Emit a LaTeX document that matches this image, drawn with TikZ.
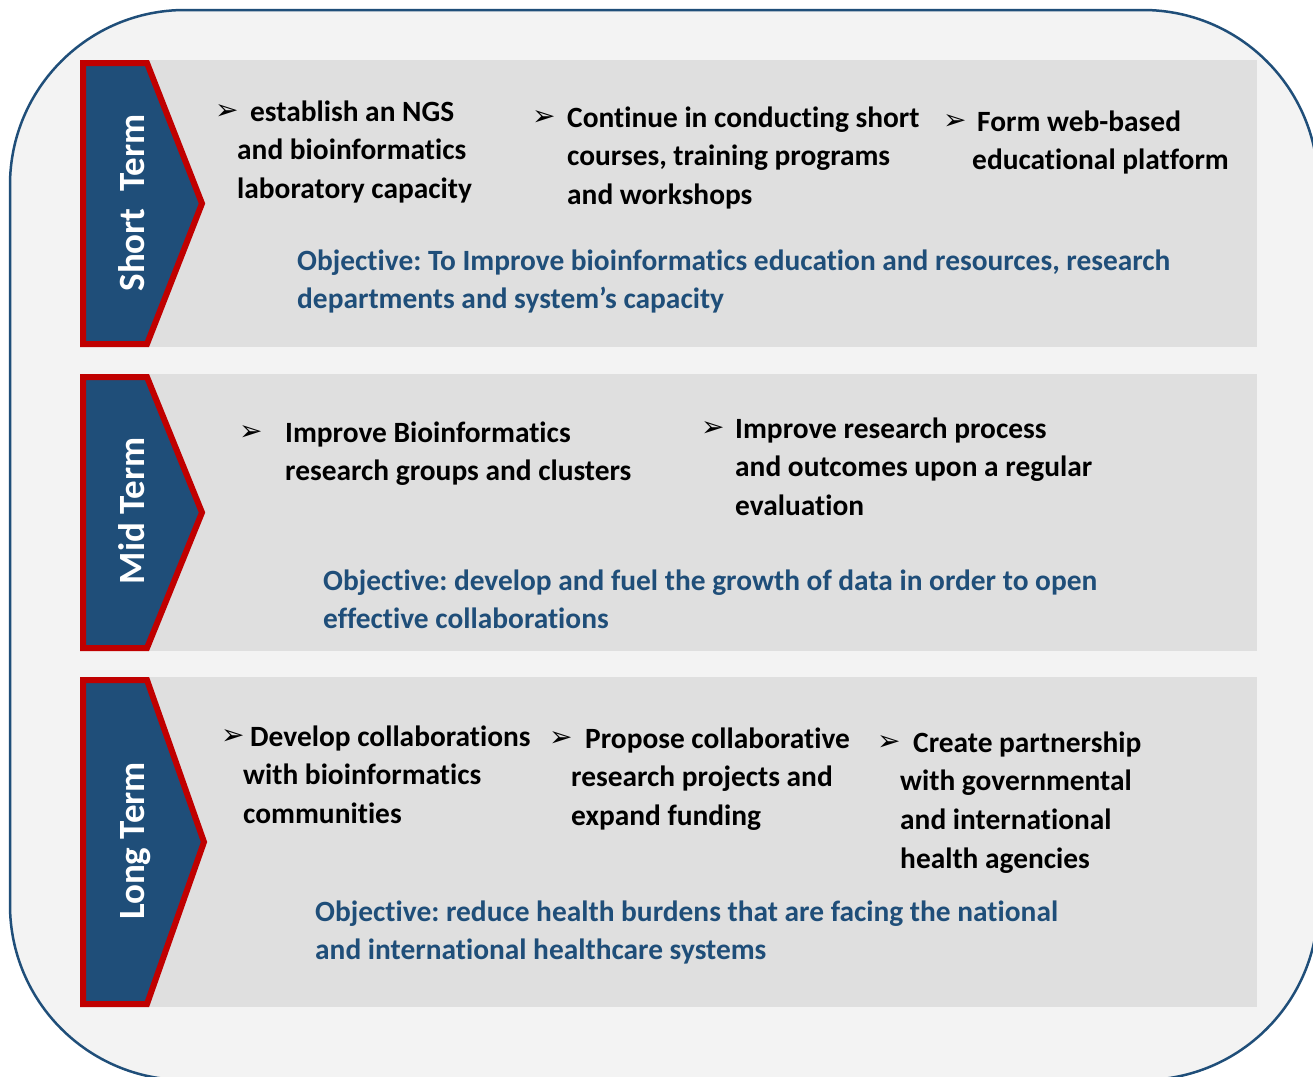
\documentclass[tikz,border=0pt]{standalone}
\usepackage{fontspec}
\setmainfont{Carlito}[Ligatures=NoCommon]
\newfontfamily\symfont{DejaVu Sans}
\definecolor{termblue}{HTML}{1F4E79}
\definecolor{termred}{HTML}{C00000}
\definecolor{panelgray}{HTML}{DFDFDF}
\definecolor{backgray}{HTML}{F3F3F3}
\frenchspacing

\begin{document}
\begin{tikzpicture}[x=1pt,y=-1pt,
  panel/.style={fill=panelgray},
  termarrow/.style={fill=termblue,draw=termred,line width=6pt},
  termlabel/.style={anchor=base,rotate=90,text=white,inner sep=0pt,font=\fontsize{37}{40}\selectfont\bfseries},
  bullet/.style={anchor=base west,inner sep=0pt,font=\symfont\fontsize{28}{28}\selectfont},
  item/.style={anchor=base west,align=left,inner sep=0pt,font=\fontsize{29.4}{38.7}\selectfont\bfseries},
  goal/.style={item,text=termblue}]
\useasboundingbox (0,0) rectangle (1313,1076);
\fill[white] (0,0) rectangle (1313,1076);
\clip (0,0) rectangle (1313,1076);
\draw[fill=backgray,draw=termblue,line width=2.5pt,rounded corners=175pt] (10,10) rectangle (1318,1080);

\fill[panel] (140,60) rectangle (1257,347);
\fill[panel] (140,374) rectangle (1257,651);
\fill[panel] (140,677) rectangle (1257,1007);

\draw[termarrow] (83,63) -- (147,63) -- (202,203.5) -- (147,344) -- (83,344) -- cycle;
\draw[termarrow] (83,377) -- (147,377) -- (202,512.5) -- (147,648) -- (83,648) -- cycle;
\draw[termarrow] (83,680) -- (147,680) -- (204,842) -- (147,1004) -- (83,1004) -- cycle;
\node[termlabel] (short) at (144,203) {Short~ Term};
\node[termlabel] (mid) at (144,511) {Mid Term};
\node[termlabel] (long) at (144,841) {Long Term};

\node[bullet] (st1b) at (215,119) {➢};
\node[item] (st1) at (237,198.4) {\hspace*{13pt}establish an NGS\\and bioinformatics\\laboratory capacity};
\node[bullet] (st2b) at (532,125) {➢};
\node[item] (st2) at (567,204.4) {Continue in conducting short\\courses, training programs\\and workshops};
\node[bullet] (st3b) at (943,129) {➢};
\node[item] (st3) at (972,169.7) {\hspace*{5pt}Form web-based\\educational platform};
\node[goal] (stgoal) at (297,308.7) {Objective: To Improve bioinformatics education and resources, research\\departments and system’s capacity};

\node[bullet] (mt1b) at (239,440) {➢};
\node[item] (mt1) at (285,480.7) {Improve Bioinformatics\\research groups and clusters};
\node[bullet] (mt2b) at (701,436) {➢};
\node[item] (mt2) at (735,515.4) {Improve research process\\and outcomes upon a regular\\evaluation};
\node[goal] (mtgoal) at (323,628.7) {Objective: develop and fuel the growth of data in order to open\\effective collaborations};

\node[bullet] (lt1b) at (221,744) {➢};
\node[item] (lt1) at (243,823.4) {\hspace*{7pt}Develop collaborations\\with bioinformatics\\communities};
\node[bullet] (lt2b) at (549,746) {➢};
\node[item] (lt2) at (571,825.4) {\hspace*{14pt}Propose collaborative\\research projects and\\expand funding};
\node[bullet] (lt3b) at (877,750) {➢};
\node[item] (lt3) at (900,868.1) {\hspace*{13pt}Create partnership\\with governmental\\and international\\health agencies};
\node[goal] (ltgoal) at (315,959.7) {Objective: reduce health burdens that are facing the national\\and international healthcare systems};
\end{tikzpicture}
\end{document}
